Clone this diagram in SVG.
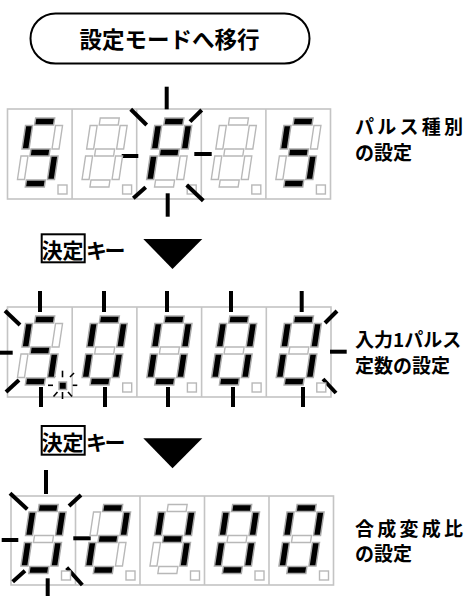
<svg xmlns="http://www.w3.org/2000/svg" width="467" height="596" viewBox="0 0 467 596">
<style>
.panel{fill:#fff;stroke:#c4c4c4;stroke-width:1.6}
.div{stroke:#c4c4c4;stroke-width:1.6}
.on{fill:#000;stroke:#aaaaaa;stroke-width:1.5}
.off{fill:#fff;stroke:#b8b8b8;stroke-width:1.4}
.dp{fill:#fff;stroke:#b8b8b8;stroke-width:1.4}
.ray{stroke:#000;stroke-width:4;stroke-linecap:butt}
.sray{stroke:#000;stroke-width:1.6}
.t{font-family:"Noto Sans CJK JP","Noto Sans CJK SC",sans-serif;font-weight:700;fill:#000}
</style>
<defs>
<rect id="sa" x="-9.5" y="-34.5" width="19" height="7"/>
<rect id="sg" x="-9.5" y="-3.5" width="19" height="7"/>
<rect id="sd" x="-9.5" y="27.5" width="19" height="7"/>
<rect id="sf" x="-18.5" y="-27" width="7" height="23.5"/>
<rect id="sb" x="11.5" y="-27" width="7" height="23.5"/>
<rect id="se" x="-18.5" y="3.5" width="7" height="23.5"/>
<rect id="sc" x="11.5" y="3.5" width="7" height="23.5"/>
</defs>

<g id="start">
<rect x="30.5" y="13.5" width="279" height="50" rx="25" fill="#fff" stroke="#000" stroke-width="2"/>
<text class="t" x="169.5" y="47.5" font-size="22.5" text-anchor="middle">設定モードへ移行</text>
</g>

<g id="connectors">
<polygon points="143.3,239 202.3,239 172.5,269" fill="#000"/>
<polygon points="143.3,438.3 202.3,438.3 172.5,468.3" fill="#000"/>
</g>

<g id="key1">
<rect x="41.7" y="234.3" width="43" height="28" fill="none" stroke="#000" stroke-width="2"/>
<text class="t" x="41.5" y="257.8" font-size="21">決定</text>
<text class="t" x="86" y="257.8" font-size="21" letter-spacing="-2.5">キー</text>
</g>
<g id="key2">
<rect x="41.7" y="426" width="43" height="28.7" fill="none" stroke="#000" stroke-width="2"/>
<text class="t" x="41.5" y="449.8" font-size="21">決定</text>
<text class="t" x="86" y="449.8" font-size="21" letter-spacing="-2.5">キー</text>
</g>

<!-- Row 1 -->
<g id="row1">
<rect class="panel" x="7.5" y="109" width="323" height="90"/>
<line class="div" x1="72.1" y1="109" x2="72.1" y2="199"/>
<line class="div" x1="136.7" y1="109" x2="136.7" y2="199"/>
<line class="div" x1="201.3" y1="109" x2="201.3" y2="199"/>
<line class="div" x1="265.9" y1="109" x2="265.9" y2="199"/>
<rect class="dp" x="58" y="185" width="9" height="9"/>
<rect class="dp" x="122.6" y="185" width="9" height="9"/>
<rect class="dp" x="187.2" y="185" width="9" height="9"/>
<rect class="dp" x="251.8" y="185" width="9" height="9"/>
<rect class="dp" x="316.4" y="185" width="9" height="9"/>
<g id="row1-rays">
<line class="ray" x1="166.7" y1="86.7" x2="166.7" y2="109.3"/>
<line class="ray" x1="167.7" y1="193.3" x2="167.7" y2="216.7"/>
<line class="ray" x1="121.7" y1="156" x2="138.3" y2="156"/>
<line class="ray" x1="194.3" y1="154" x2="211.7" y2="154"/>
<line class="ray" x1="130.7" y1="109.3" x2="146.7" y2="125"/>
<line class="ray" x1="201.7" y1="110" x2="190" y2="121.7"/>
<line class="ray" x1="145.7" y1="187.3" x2="133.3" y2="198.3"/>
<line class="ray" x1="186.7" y1="185" x2="203.3" y2="200.7"/>
</g>
<g transform="translate(40,152.5) skewX(-8.5)"><use href="#sa" class="on"/><use href="#sb" class="off"/><use href="#sc" class="on"/><use href="#sd" class="on"/><use href="#se" class="off"/><use href="#sf" class="on"/><use href="#sg" class="on"/></g>
<g transform="translate(104.6,152.5) skewX(-8.5)"><use href="#sa" class="off"/><use href="#sb" class="off"/><use href="#sc" class="off"/><use href="#sd" class="off"/><use href="#se" class="off"/><use href="#sf" class="off"/><use href="#sg" class="off"/></g>
<g transform="translate(169.2,152.5) skewX(-8.5)"><use href="#sa" class="on"/><use href="#sb" class="on"/><use href="#sc" class="off"/><use href="#sd" class="off"/><use href="#se" class="on"/><use href="#sf" class="on"/><use href="#sg" class="on"/></g>
<g transform="translate(233.8,152.5) skewX(-8.5)"><use href="#sa" class="off"/><use href="#sb" class="off"/><use href="#sc" class="off"/><use href="#sd" class="off"/><use href="#se" class="off"/><use href="#sf" class="off"/><use href="#sg" class="off"/></g>
<g transform="translate(298.4,152.5) skewX(-8.5)"><use href="#sa" class="on"/><use href="#sb" class="off"/><use href="#sc" class="on"/><use href="#sd" class="on"/><use href="#se" class="off"/><use href="#sf" class="on"/><use href="#sg" class="on"/></g>
</g>
<g id="label1">
<text class="t" x="355" y="133.7" font-size="19" letter-spacing="3.25">パルス種別</text>
<text class="t" x="355" y="159.7" font-size="19">の設定</text>
</g>

<!-- Row 2 -->
<g id="row2">
<rect class="panel" x="7.5" y="307" width="323.5" height="90"/>
<line class="div" x1="72.2" y1="307" x2="72.2" y2="397"/>
<line class="div" x1="136.9" y1="307" x2="136.9" y2="397"/>
<line class="div" x1="201.6" y1="307" x2="201.6" y2="397"/>
<line class="div" x1="266.3" y1="307" x2="266.3" y2="397"/>
<g id="row2-rays">
<line class="ray" x1="40" y1="291" x2="40" y2="312"/>
<line class="ray" x1="104" y1="291" x2="104" y2="312"/>
<line class="ray" x1="167" y1="291" x2="167" y2="312"/>
<line class="ray" x1="231" y1="291" x2="231" y2="312"/>
<line class="ray" x1="301.7" y1="291" x2="301.7" y2="312"/>
<line class="ray" x1="41" y1="387" x2="41" y2="407"/>
<line class="ray" x1="105" y1="387" x2="105" y2="407"/>
<line class="ray" x1="168" y1="387" x2="168" y2="407"/>
<line class="ray" x1="233" y1="387" x2="233" y2="407"/>
<line class="ray" x1="303" y1="387" x2="303" y2="407"/>
<line class="ray" x1="5" y1="310.7" x2="20" y2="325"/>
<line class="ray" x1="0" y1="352.7" x2="12.7" y2="352.7"/>
<line class="ray" x1="19" y1="380" x2="6" y2="392"/>
<line class="ray" x1="325" y1="323" x2="337" y2="311"/>
<line class="ray" x1="330" y1="351.7" x2="346.7" y2="351.7"/>
<line class="ray" x1="323" y1="379" x2="336" y2="393"/>
</g>
<g id="dp-flash">
<line class="sray" x1="62.5" y1="370.7" x2="62.5" y2="377.3"/>
<line class="sray" x1="62.5" y1="392" x2="62.5" y2="399"/>
<line class="sray" x1="48" y1="385.3" x2="53" y2="385.3"/>
<line class="sray" x1="72.7" y1="385.3" x2="77.3" y2="385.3"/>
<line class="sray" x1="70" y1="377" x2="74" y2="373"/>
<line class="sray" x1="55" y1="377" x2="51" y2="373"/>
<line class="sray" x1="57.5" y1="392" x2="53.5" y2="396.5"/>
<line class="sray" x1="68" y1="392" x2="72" y2="396.5"/>
</g>
<g transform="translate(40,350.5) skewX(-8.5)"><use href="#sa" class="on"/><use href="#sb" class="off"/><use href="#sc" class="on"/><use href="#sd" class="on"/><use href="#se" class="off"/><use href="#sf" class="on"/><use href="#sg" class="on"/></g>
<g transform="translate(104.7,350.5) skewX(-8.5)"><use href="#sa" class="on"/><use href="#sb" class="on"/><use href="#sc" class="on"/><use href="#sd" class="on"/><use href="#se" class="on"/><use href="#sf" class="on"/><use href="#sg" class="off"/></g>
<g transform="translate(169.4,350.5) skewX(-8.5)"><use href="#sa" class="on"/><use href="#sb" class="on"/><use href="#sc" class="on"/><use href="#sd" class="on"/><use href="#se" class="on"/><use href="#sf" class="on"/><use href="#sg" class="off"/></g>
<g transform="translate(234.1,350.5) skewX(-8.5)"><use href="#sa" class="on"/><use href="#sb" class="on"/><use href="#sc" class="on"/><use href="#sd" class="on"/><use href="#se" class="on"/><use href="#sf" class="on"/><use href="#sg" class="off"/></g>
<g transform="translate(298.8,350.5) skewX(-8.5)"><use href="#sa" class="on"/><use href="#sb" class="on"/><use href="#sc" class="on"/><use href="#sd" class="on"/><use href="#se" class="on"/><use href="#sf" class="on"/><use href="#sg" class="off"/></g>
<rect class="on" x="59" y="382" width="7.5" height="7.5"/>
<rect class="dp" x="122.7" y="383" width="9" height="9"/>
<rect class="dp" x="187.4" y="383" width="9" height="9"/>
<rect class="dp" x="252.1" y="383" width="9" height="9"/>
<rect class="dp" x="316.8" y="383" width="9" height="9"/>
</g>
<g id="label2">
<text class="t" x="355" y="347" font-size="19">入力1パルス</text>
<text class="t" x="355" y="372.7" font-size="19">定数の設定</text>
</g>

<!-- Row 3 -->
<g id="row3">
<rect class="panel" x="11" y="496" width="322.5" height="89"/>
<line class="div" x1="75.5" y1="496" x2="75.5" y2="585"/>
<line class="div" x1="140" y1="496" x2="140" y2="585"/>
<line class="div" x1="204.5" y1="496" x2="204.5" y2="585"/>
<line class="div" x1="269" y1="496" x2="269" y2="585"/>
<g id="row3-rays">
<line class="ray" x1="46" y1="470" x2="46" y2="494"/>
<line class="ray" x1="47.7" y1="578.3" x2="47.7" y2="596"/>
<line class="ray" x1="1.7" y1="540" x2="18.3" y2="540"/>
<line class="ray" x1="73.3" y1="538.3" x2="90.7" y2="538.3"/>
<line class="ray" x1="10" y1="493.3" x2="27.3" y2="509.3"/>
<line class="ray" x1="81" y1="495" x2="69" y2="506"/>
<line class="ray" x1="25" y1="570.7" x2="12.7" y2="581.7"/>
<line class="ray" x1="66.7" y1="567.7" x2="82.3" y2="585"/>
</g>
<g transform="translate(43.5,539) skewX(-8.5)"><use href="#sa" class="on"/><use href="#sb" class="on"/><use href="#sc" class="on"/><use href="#sd" class="on"/><use href="#se" class="on"/><use href="#sf" class="on"/><use href="#sg" class="off"/></g>
<g transform="translate(108,539) skewX(-8.5)"><use href="#sa" class="on"/><use href="#sb" class="on"/><use href="#sc" class="off"/><use href="#sd" class="on"/><use href="#se" class="on"/><use href="#sf" class="off"/><use href="#sg" class="on"/></g>
<g transform="translate(172.5,539) skewX(-8.5)"><use href="#sa" class="off"/><use href="#sb" class="on"/><use href="#sc" class="on"/><use href="#sd" class="off"/><use href="#se" class="off"/><use href="#sf" class="on"/><use href="#sg" class="on"/></g>
<g transform="translate(237,539) skewX(-8.5)"><use href="#sa" class="on"/><use href="#sb" class="on"/><use href="#sc" class="on"/><use href="#sd" class="on"/><use href="#se" class="on"/><use href="#sf" class="on"/><use href="#sg" class="off"/></g>
<g transform="translate(301.5,539) skewX(-8.5)"><use href="#sa" class="on"/><use href="#sb" class="on"/><use href="#sc" class="on"/><use href="#sd" class="on"/><use href="#se" class="on"/><use href="#sf" class="on"/><use href="#sg" class="off"/></g>
<rect class="dp" x="61.5" y="571" width="9" height="9"/>
<rect class="dp" x="126" y="571" width="9" height="9"/>
<rect class="dp" x="190.5" y="571" width="9" height="9"/>
<rect class="dp" x="255" y="571" width="9" height="9"/>
<rect class="dp" x="319.5" y="571" width="9" height="9"/>
</g>
<g id="label3">
<text class="t" x="355" y="536" font-size="19" letter-spacing="3.25">合成変成比</text>
<text class="t" x="355" y="561.4" font-size="19">の設定</text>
</g>
</svg>
